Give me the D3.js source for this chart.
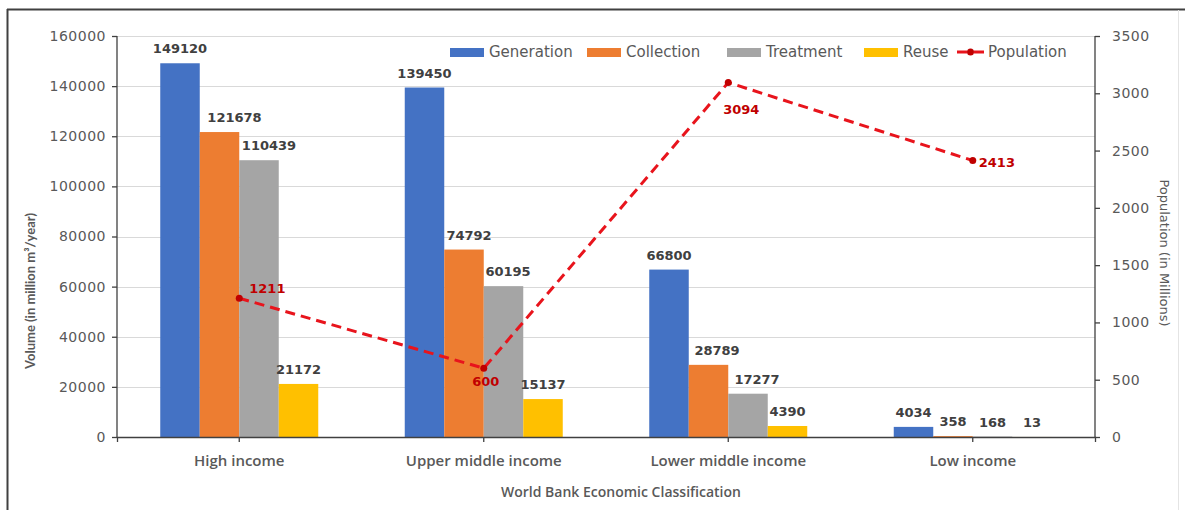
<!DOCTYPE html>
<html>
<head>
<meta charset="utf-8">
<script src="https://cdn.jsdelivr.net/npm/d3@7/dist/d3.min.js"></script>
<style>
  html, body { margin: 0; padding: 0; background: #fff; }
  svg { display: block; }
</style>
</head>
<body>
<svg id="chart" width="1185" height="510"></svg>
<script>
// Wastewater volumes by World Bank income group, with population on a second axis
const categories = ["High income", "Upper middle income", "Lower middle income", "Low income"];
const seriesNames = ["Generation", "Collection", "Treatment", "Reuse"];
const generation = [149120, 139450, 66800, 4034];
const collection = [121678, 74792, 28789, 358];
const treatment = [110439, 60195, 17277, 168];
const reuse = [21172, 15137, 4390, 13];
const population = [1211, 600, 3094, 2413];
const volumeTicks = [0, 20000, 40000, 60000, 80000, 100000, 120000, 140000, 160000];
const populationTicks = [0, 500, 1000, 1500, 2000, 2500, 3000, 3500];

const seriesValues = [generation, collection, treatment, reuse];
const colors = ["#4472C4", "#ED7D31", "#A5A5A5", "#FFC000"];
const lineColor = "#E8141C";
const markerColor = "#C00000";

const svg = d3.select("#chart");
const plot = { left: 117, right: 1095, top: 36, bottom: 437 };

// frame around the chart area
svg.append("line").attr("x1", 7).attr("x2", 1185).attr("y1", 9.5).attr("y2", 9.5)
  .attr("stroke", "#404040").attr("stroke-width", 2);
svg.append("line").attr("x1", 7.5).attr("x2", 7.5).attr("y1", 9).attr("y2", 510)
  .attr("stroke", "#404040").attr("stroke-width", 2);
svg.append("line").attr("x1", 1178.5).attr("x2", 1178.5).attr("y1", 10).attr("y2", 510)
  .attr("stroke", "#e4e4e4").attr("stroke-width", 1);

const x = d3.scaleBand().domain(categories).range([plot.left, plot.right]).padding(0);
const xs = d3.scaleBand().domain(seriesNames).range([0, x.bandwidth()])
  .paddingInner(0).paddingOuter(1.095);
const y = d3.scaleLinear().domain([0, 160000]).range([plot.bottom, plot.top]);
const yPop = d3.scaleLinear().domain([0, 3500]).range([plot.bottom, plot.top]);

// gridlines
svg.append("g").selectAll("line").data(volumeTicks.slice(1)).join("line")
  .attr("x1", plot.left).attr("x2", plot.right)
  .attr("y1", d => Math.round(y(d)) + 0.5).attr("y2", d => Math.round(y(d)) + 0.5)
  .attr("stroke", "#d9d9d9").attr("stroke-width", 1);

// bars
const rows = [];
categories.forEach((c, i) => seriesNames.forEach((s, j) =>
  rows.push({ c, s, j, v: seriesValues[j][i], i })));

svg.append("g").selectAll("rect").data(rows).join("rect")
  .attr("x", d => x(d.c) + xs(d.s))
  .attr("width", xs.bandwidth())
  .attr("y", d => y(d.v))
  .attr("height", d => y(0) - y(d.v))
  .attr("fill", d => colors[d.j]);

// value labels; a few are nudged sideways so they don't collide
const nudge = { "Collection": [15, 5, 8.5, 0], "Treatment": [10, 4.5, 9, 0] };
svg.append("g").selectAll("text").data(rows).join("text")
  .attr("x", d => x(d.c) + xs(d.s) + xs.bandwidth() / 2 + (nudge[d.s] ? nudge[d.s][d.i] : 0))
  .attr("y", d => y(d.v) - 10)
  .attr("text-anchor", "middle")
  .attr("font-family", "DejaVu Sans")
  .attr("font-weight", "bold")
  .attr("font-size", 13)
  .attr("fill", "#404040")
  .text(d => d.v);

// axes
const axisColor = "#404040";
const tickFont = "DejaVu Sans";

const gl = svg.append("g").attr("transform", `translate(${plot.left},0)`)
  .call(d3.axisLeft(y).tickValues(volumeTicks).tickSize(5).tickPadding(6).tickFormat(d3.format("d")));
const gr = svg.append("g").attr("transform", `translate(${plot.right},0)`)
  .call(d3.axisRight(yPop).tickValues(populationTicks).tickSize(5).tickPadding(12).tickFormat(d3.format("d")));
const gb = svg.append("g").attr("transform", `translate(0,${plot.bottom})`)
  .call(d3.axisBottom(x).tickSize(5).tickPadding(13));

[gl, gr, gb].forEach(g => {
  g.select(".domain").attr("stroke", axisColor).attr("stroke-width", 1.3);
  g.selectAll(".tick line").attr("stroke", axisColor).attr("stroke-width", 1.3);
});
[gl, gr].forEach(g => g.selectAll(".tick text")
  .attr("font-family", tickFont).attr("font-size", 14).attr("fill", "#595959")
  .attr("letter-spacing", 0.5));
gl.select(".domain").attr("d", `M-0,${plot.top}V${plot.bottom}`);
gr.select(".domain").attr("d", `M0,${plot.top}V${plot.bottom}`);
gb.selectAll(".tick text")
  .attr("font-family", "Open Sans").attr("font-weight", 600).attr("font-size", 15)
  .attr("fill", "#595959");

// axis titles
svg.append("text")
  .attr("transform", "translate(35,291) rotate(-90)")
  .attr("text-anchor", "middle")
  .attr("font-family", "Lato").attr("font-weight", "bold").attr("font-size", 13)
  .attr("fill", "#595959")
  .text("Volume (in million m³/year)");
svg.append("text")
  .attr("transform", "translate(1160,253) rotate(90)")
  .attr("text-anchor", "middle")
  .attr("font-family", "DejaVu Sans").attr("font-size", 13)
  .attr("fill", "#595959")
  .text("Population (in Millions)");
svg.append("text")
  .attr("x", 621).attr("y", 497)
  .attr("text-anchor", "middle")
  .attr("font-family", "Open Sans").attr("font-weight", 600).attr("font-size", 14)
  .attr("fill", "#595959")
  .text("World Bank Economic Classification");

// population line
const cx = c => x(c) + x.bandwidth() / 2;
const popPts = categories.map((c, i) => ({ c, v: population[i] }));
svg.append("path").datum(popPts)
  .attr("d", d3.line().x(d => cx(d.c)).y(d => yPop(d.v)))
  .attr("fill", "none").attr("stroke", lineColor).attr("stroke-width", 3)
  .attr("stroke-dasharray", "10,6");
svg.append("g").selectAll("circle").data(popPts).join("circle")
  .attr("cx", d => cx(d.c)).attr("cy", d => yPop(d.v)).attr("r", 3.5)
  .attr("fill", markerColor);

// population labels placed around each point
const popLabelPos = [
  { dx: 10, dy: -5, anchor: "start" },
  { dx: 2, dy: 18, anchor: "middle" },
  { dx: 13, dy: 31, anchor: "middle" },
  { dx: 6, dy: 6, anchor: "start" }
];
svg.append("g").selectAll("text").data(popPts).join("text")
  .attr("x", (d, i) => cx(d.c) + popLabelPos[i].dx)
  .attr("y", (d, i) => yPop(d.v) + popLabelPos[i].dy)
  .attr("text-anchor", (d, i) => popLabelPos[i].anchor)
  .attr("font-family", "DejaVu Sans").attr("font-weight", "bold").attr("font-size", 13)
  .attr("fill", markerColor)
  .text(d => d.v);

// legend: one entry per bar series, then the population line
const legend = svg.append("g");
const legendItems = seriesNames.map((s, j) => ({ name: s, color: colors[j], type: "bar" }))
  .concat([{ name: "Population", type: "line" }]);
const legendX = [450, 587, 727, 864, 957];
const ly = 52;
legendItems.forEach((it, k) => {
  const lx = legendX[k];
  let tx;
  if (it.type === "bar") {
    legend.append("rect").attr("x", lx).attr("y", ly - 4).attr("width", 34).attr("height", 9)
      .attr("fill", it.color);
    tx = lx + 39;
  } else {
    legend.append("line").attr("x1", lx).attr("x2", lx + 27).attr("y1", ly).attr("y2", ly)
      .attr("stroke", lineColor).attr("stroke-width", 3).attr("stroke-dasharray", "10,7");
    legend.append("circle").attr("cx", lx + 13.5).attr("cy", ly).attr("r", 3.5).attr("fill", markerColor);
    tx = lx + 31;
  }
  legend.append("text").attr("x", tx).attr("y", ly + 5)
    .attr("font-family", "DejaVu Sans").attr("font-size", 15).attr("fill", "#595959")
    .text(it.name);
});
</script>
</body>
</html>
